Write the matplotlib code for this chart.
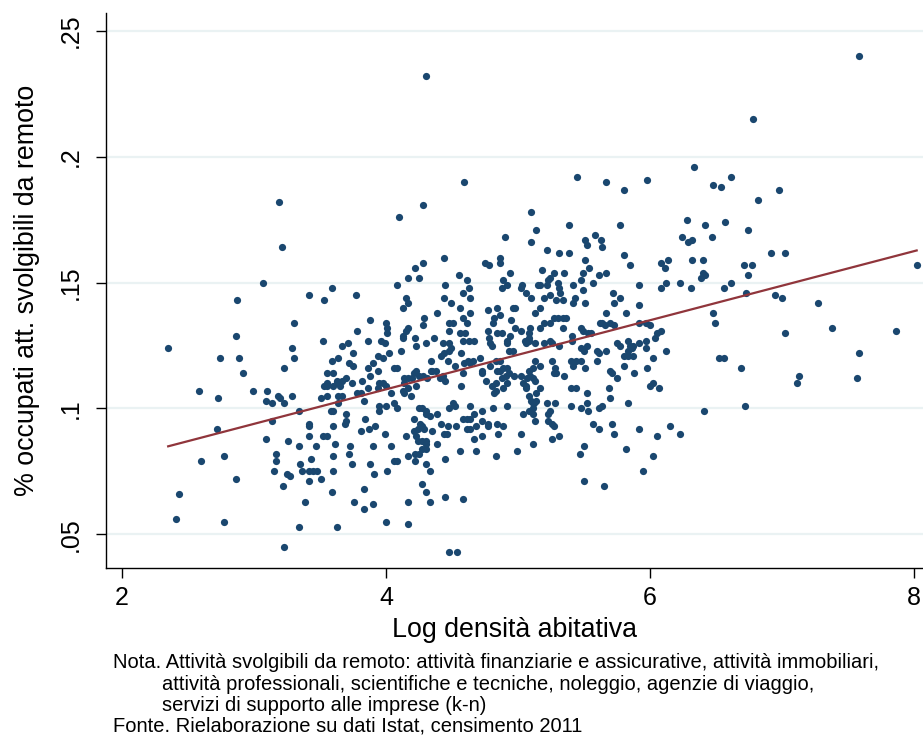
import numpy as np
import matplotlib.pyplot as plt

# (log densita abitativa, quota occupati in attivita svolgibili da remoto), one pair per comune
comuni = [
    (3.19, .182), (3.21, .164), (4.10, .176), (3.07, .150), (3.59, .148), (4.08, .149),
    (3.42, .145), (3.77, .145), (2.87, .143), (3.53, .143), (3.30, .134), (3.88, .135),
    (4.00, .134), (4.01, .132), (4.01, .130), (3.78, .131), (2.86, .129), (3.52, .127),
    (3.86, .127), (3.96, .127), (3.99, .126), (3.67, .125), (3.71, .126), (2.35, .124),
    (3.29, .124), (3.75, .122), (4.02, .122), (2.74, .120), (2.89, .120), (3.30, .120),
    (3.64, .120), (3.59, .119), (3.94, .121), (3.98, .120), (3.72, .118), (3.75, .117),
    (3.90, .118), (3.23, .116), (2.92, .114), (3.60, .114), (3.55, .114), (3.86, .116),
    (3.94, .115), (3.88, .113), (4.06, .116), (4.08, .116), (3.55, .110), (3.53, .109),
    (3.55, .109), (3.60, .109), (3.63, .111), (3.67, .111), (3.70, .112), (3.74, .110),
    (3.63, .110), (3.65, .109), (3.82, .111), (3.86, .108), (3.94, .108), (3.98, .110),
    (4.00, .109), (3.95, .110), (2.58, .107), (2.99, .107), (3.10, .107), (3.18, .105),
    (3.20, .104), (3.29, .105), (3.09, .103), (3.14, .102), (3.23, .102), (2.73, .104),
    (3.51, .104), (3.55, .105), (3.64, .105), (3.67, .105), (3.64, .102), (3.78, .106),
    (3.81, .106), (3.83, .103), (4.04, .106), (4.06, .102), (4.08, .100), (3.95, .101),
    (4.00, .101), (3.95, .099), (3.34, .099), (3.58, .099), (3.60, .099), (3.70, .098),
    (3.14, .095), (3.42, .094), (3.42, .093), (3.69, .094), (3.70, .095), (3.84, .096),
    (3.60, .093), (2.72, .092), (3.92, .093), (3.87, .092), (3.81, .091), (3.99, .090),
    (3.52, .089), (3.55, .089), (3.42, .089), (3.09, .088), (3.26, .087), (3.34, .085),
    (3.47, .085), (3.61, .086), (3.73, .085), (3.90, .085), (4.04, .085), (3.17, .082),
    (2.77, .081), (3.60, .081), (3.72, .082), (2.60, .079), (3.43, .080), (3.17, .079),
    (3.35, .078), (3.74, .078), (3.88, .078), (4.06, .079), (4.08, .079), (3.42, .075),
    (3.45, .075), (3.48, .075), (3.36, .075), (3.15, .075), (3.25, .074), (3.27, .073),
    (3.60, .075), (3.91, .074), (4.01, .075), (2.86, .072), (3.42, .071), (3.51, .072),
    (3.22, .069), (3.59, .067), (3.83, .068), (2.43, .066), (3.39, .063), (3.76, .063),
    (3.90, .062), (3.83, .060), (2.41, .056), (2.77, .055), (3.34, .053), (3.63, .053),
    (4.00, .055), (3.23, .045),
    # centro
    (4.30, .232), (4.59, .190), (5.45, .192), (5.67, .190), (5.80, .187), (5.98, .191),
    (4.28, .181), (5.10, .178), (5.14, .171), (5.39, .173), (5.77, .173), (4.90, .168),
    (5.10, .166), (5.51, .167), (5.52, .165), (5.58, .169), (5.63, .167), (5.64, .164),
    (5.22, .163), (5.31, .162), (5.39, .162), (5.80, .161), (4.44, .160), (4.86, .160),
    (4.86, .158), (4.75, .158), (4.78, .157), (4.28, .158), (4.22, .156), (4.17, .152),
    (4.25, .152), (5.51, .159), (5.85, .157), (4.55, .153), (4.94, .154), (5.27, .154),
    (5.24, .152), (5.18, .155), (5.35, .154), (5.49, .154), (5.54, .156), (5.61, .153),
    (5.67, .154),
    (4.45, .149), (4.61, .151), (4.63, .148), (4.88, .148), (4.89, .151), (4.92, .149),
    (5.02, .148), (5.03, .149), (5.15, .149), (5.17, .149), (5.22, .149), (5.23, .151),
    (5.30, .150), (5.31, .148), (5.32, .146), (5.42, .149), (5.48, .151), (5.49, .147),
    (5.57, .150), (5.92, .149), (4.15, .144), (4.17, .142), (4.13, .140), (4.44, .144),
    (4.49, .142), (4.58, .146), (4.64, .144), (4.84, .140), (4.77, .139), (4.96, .140),
    (4.98, .140), (5.06, .146), (5.10, .144), (5.13, .138), (5.17, .140), (5.20, .144),
    (5.24, .145), (5.29, .143), (5.34, .143), (5.43, .144), (5.42, .142), (5.51, .142),
    (5.72, .146), (5.77, .144), (5.73, .142), (5.82, .138), (5.92, .141), (4.39, .138),
    (4.29, .136), (4.17, .132), (4.15, .131), (4.13, .129), (4.13, .128), (4.28, .133),
    (4.56, .140), (4.58, .136), (4.61, .134), (4.48, .134), (4.51, .134), (4.48, .131),
    (4.56, .130), (4.60, .130), (4.64, .138), (4.77, .131), (4.78, .128), (4.81, .134),
    (4.82, .136), (4.86, .137), (4.84, .130), (4.88, .130), (4.92, .127), (4.94, .129),
    (4.98, .132), (5.02, .131), (4.95, .135), (5.08, .130), (5.08, .128), (5.06, .126),
    (5.09, .132), (5.17, .132), (5.20, .134), (5.24, .134), (5.27, .136), (5.30, .136),
    (5.34, .136), (5.36, .136), (5.34, .132), (5.41, .129), (5.48, .132), (5.49, .131),
    (5.53, .130), (5.55, .130), (5.62, .134), (5.64, .134), (5.66, .133), (5.67, .138),
    (5.70, .134), (5.73, .133), (5.75, .126), (5.77, .125), (5.83, .127), (5.85, .125),
    (5.87, .125), (5.92, .126), (5.97, .127), (5.92, .134), (5.97, .134), (4.22, .128),
    (4.23, .125), (4.30, .126), (4.36, .128), (4.43, .126), (4.48, .126), (4.49, .124),
    (4.48, .123), (4.58, .127), (4.63, .127), (4.67, .127), (4.57, .122), (4.11, .123),
    (4.79, .126), (4.80, .125), (4.92, .126), (4.93, .123), (4.96, .123), (5.05, .127),
    (5.08, .127), (5.13, .126), (5.20, .126), (5.24, .127), (5.26, .126), (5.31, .125),
    (5.41, .127), (5.48, .124), (5.52, .125), (5.50, .123), (5.60, .123), (5.61, .122),
    (5.67, .123), (5.80, .121), (5.83, .121), (5.83, .123), (5.86, .124), (5.87, .121),
    (5.97, .124), (4.42, .121), (4.44, .122), (4.47, .119), (4.52, .117), (4.34, .119),
    (4.38, .115), (4.34, .115), (4.59, .118), (4.62, .119), (4.66, .119), (4.64, .118),
    (4.71, .120), (4.73, .115), (4.73, .114), (4.79, .117), (4.83, .119), (4.86, .119),
    (4.84, .115), (4.86, .115), (4.89, .116), (4.92, .116), (4.93, .114), (4.91, .113),
    (4.88, .112), (5.02, .113), (4.97, .113), (5.08, .115), (5.11, .116), (5.13, .119),
    (5.17, .117), (5.09, .113), (5.07, .112), (5.26, .119), (5.28, .116), (5.27, .114),
    (5.29, .114), (5.35, .113), (5.40, .119), (5.42, .117), (5.44, .119), (5.48, .119),
    (5.51, .116), (5.60, .119), (5.70, .115), (5.71, .114), (5.75, .112), (5.80, .117),
    (5.88, .114), (5.98, .116), (4.14, .112), (4.17, .112), (4.20, .112), (4.14, .110),
    (4.23, .115), (4.21, .114), (4.25, .113), (4.28, .113), (4.31, .112), (4.35, .115),
    (4.41, .112), (4.43, .113), (4.45, .111), (4.57, .109), (4.58, .114), (4.76, .111),
    (4.80, .109), (4.83, .110), (4.83, .107), (4.82, .106), (4.89, .108), (4.92, .110),
    (5.04, .110), (5.06, .108), (5.06, .109), (5.11, .112), (5.13, .111), (5.17, .108),
    (5.40, .108), (5.44, .108), (5.52, .106), (5.69, .108), (5.70, .104), (4.13, .107),
    (4.14, .106), (4.17, .108), (4.19, .105), (4.23, .109), (5.14, .106), (5.08, .105),
    (5.10, .103), (5.11, .102), (5.12, .102), (5.14, .103), (5.22, .102), (5.28, .102),
    (5.40, .101), (5.48, .100), (5.52, .102), (5.53, .099), (5.61, .100), (5.64, .101),
    (5.83, .102), (4.25, .100), (4.27, .100), (4.30, .099), (4.30, .098), (4.33, .097),
    (4.21, .096), (4.39, .098), (4.48, .100), (4.51, .102), (4.52, .101), (4.64, .101),
    (4.67, .098), (4.73, .099), (4.81, .100), (4.92, .101), (5.04, .098), (5.08, .099),
    (5.11, .100), (5.11, .098), (5.13, .095), (5.24, .099), (5.23, .098), (5.23, .095),
    (5.26, .094), (5.27, .093), (4.26, .094), (4.27, .093), (4.24, .092), (4.23, .089),
    (4.21, .091), (4.29, .092), (4.35, .091), (4.42, .094), (4.47, .093), (4.53, .093),
    (4.58, .096), (4.61, .096), (4.64, .096), (4.64, .092), (4.68, .093), (4.73, .095),
    (4.77, .094), (4.77, .093), (4.84, .094), (4.89, .093), (4.61, .092), (4.44, .090),
    (4.46, .090), (4.15, .089), (4.27, .087), (4.30, .087), (4.30, .086), (4.24, .087),
    (4.39, .086), (4.67, .088), (4.73, .089), (4.85, .090), (5.02, .090), (5.11, .086),
    (5.26, .088), (5.31, .089), (5.57, .094), (5.61, .092), (5.71, .094), (5.73, .090),
    (5.92, .092), (4.17, .081), (4.22, .079), (4.22, .082), (4.25, .082), (4.27, .084),
    (4.30, .084), (4.30, .078), (4.33, .075), (4.45, .080), (4.56, .083), (4.68, .083),
    (4.83, .081), (4.99, .083), (5.47, .082), (5.50, .085), (5.82, .084), (5.95, .075),
    (4.27, .070), (4.30, .067), (4.33, .063), (4.45, .065), (4.58, .064), (4.17, .063),
    (5.50, .071), (5.65, .069), (4.17, .054), (4.48, .043), (4.54, .043),
    # destra
    (7.58, .240), (6.78, .215), (6.33, .196), (6.61, .192), (6.48, .189), (6.54, .188),
    (6.98, .187), (6.82, .183), (6.28, .175), (6.42, .173), (6.57, .174), (6.74, .171),
    (6.24, .168), (6.29, .166), (6.32, .167), (6.47, .168), (6.92, .162), (7.02, .162),
    (6.08, .158), (6.11, .156), (6.14, .159), (6.32, .159), (6.40, .159), (6.71, .157),
    (6.77, .157), (6.40, .154), (6.39, .152), (6.42, .153), (6.74, .153), (8.02, .157),
    (6.12, .150), (6.23, .150), (6.61, .150), (6.08, .148), (6.31, .148), (6.56, .148),
    (6.73, .146), (6.95, .145), (7.00, .144), (7.27, .142), (6.48, .138), (6.49, .134),
    (6.00, .133), (6.08, .131), (6.05, .130), (6.04, .128), (7.02, .130), (7.38, .132),
    (7.86, .131), (6.12, .123), (6.02, .120), (6.52, .120), (6.56, .120), (7.58, .122),
    (6.69, .116), (7.13, .113), (7.11, .110), (7.57, .112), (6.02, .110), (6.00, .109),
    (6.07, .108), (6.72, .101), (6.41, .099), (6.15, .093), (6.05, .089), (6.23, .090),
    (6.02, .081),
]

# fitted line: share = intercept + slope * log density
fit_slope = 0.01373
fit_intercept = 0.0527

y_ticks = [0.05, 0.10, 0.15, 0.20, 0.25]
y_tick_labels = ['.05', '.1', '.15', '.2', '.25']
x_ticks = [2, 4, 6, 8]

nota = [
    "Nota. Attività svolgibili da remoto: attività finanziarie e assicurative, attività immobiliari,",
    "attività professionali, scientifiche e tecniche, noleggio, agenzie di viaggio,",
    "servizi di supporto alle imprese (k-n)",
]
fonte = "Fonte. Rielaborazione su dati Istat, censimento 2011"

plt.rcParams['font.family'] = ['Liberation Sans', 'DejaVu Sans']

x = np.array([p[0] for p in comuni])
y = np.array([p[1] for p in comuni])

fig = plt.figure(figsize=(9.23, 7.38), dpi=100)
ax = fig.add_axes([106 / 923, 170 / 738, 817 / 923, 555 / 738])

for t in y_ticks:
    ax.axhline(t, color='#eaf2f3', linewidth=1.6, zorder=0)

ax.scatter(x, y, s=27, color='#1a476f', linewidths=0, zorder=2)

line_x = np.array([x.min(), x.max()])
ax.plot(line_x, fit_intercept + fit_slope * line_x, color='#90353b', linewidth=1.6, zorder=3)

ax.set_xlim(1.879, 8.068)
ax.set_ylim(0.0366, 0.2572)
ax.set_xticks(x_ticks)
ax.set_yticks(y_ticks)
ax.set_yticklabels(y_tick_labels, rotation=90, va='center')

for side in ['top', 'right']:
    ax.spines[side].set_visible(False)
for side in ['left', 'bottom']:
    ax.spines[side].set_linewidth(1.0)
    ax.spines[side].set_color('black')

ax.tick_params(axis='both', length=7, width=1.0, labelsize=18, direction='out')
ax.tick_params(axis='x', pad=6)
ax.tick_params(axis='y', pad=10)

ax.set_xlabel("Log densità abitativa", fontsize=19.3, labelpad=5)
ax.set_ylabel("% occupati att. svolgibili da remoto", fontsize=19.3, labelpad=13)

note_size = 14.5
fig.text(113 / 923, 1 - 668 / 738, nota[0], fontsize=note_size, va='baseline')
fig.text(162 / 923, 1 - 690 / 738, nota[1], fontsize=note_size, va='baseline')
fig.text(162 / 923, 1 - 711 / 738, nota[2], fontsize=note_size, va='baseline')
fig.text(113 / 923, 1 - 732 / 738, fonte, fontsize=note_size, va='baseline')

fig.savefig("out.png", dpi=100)
